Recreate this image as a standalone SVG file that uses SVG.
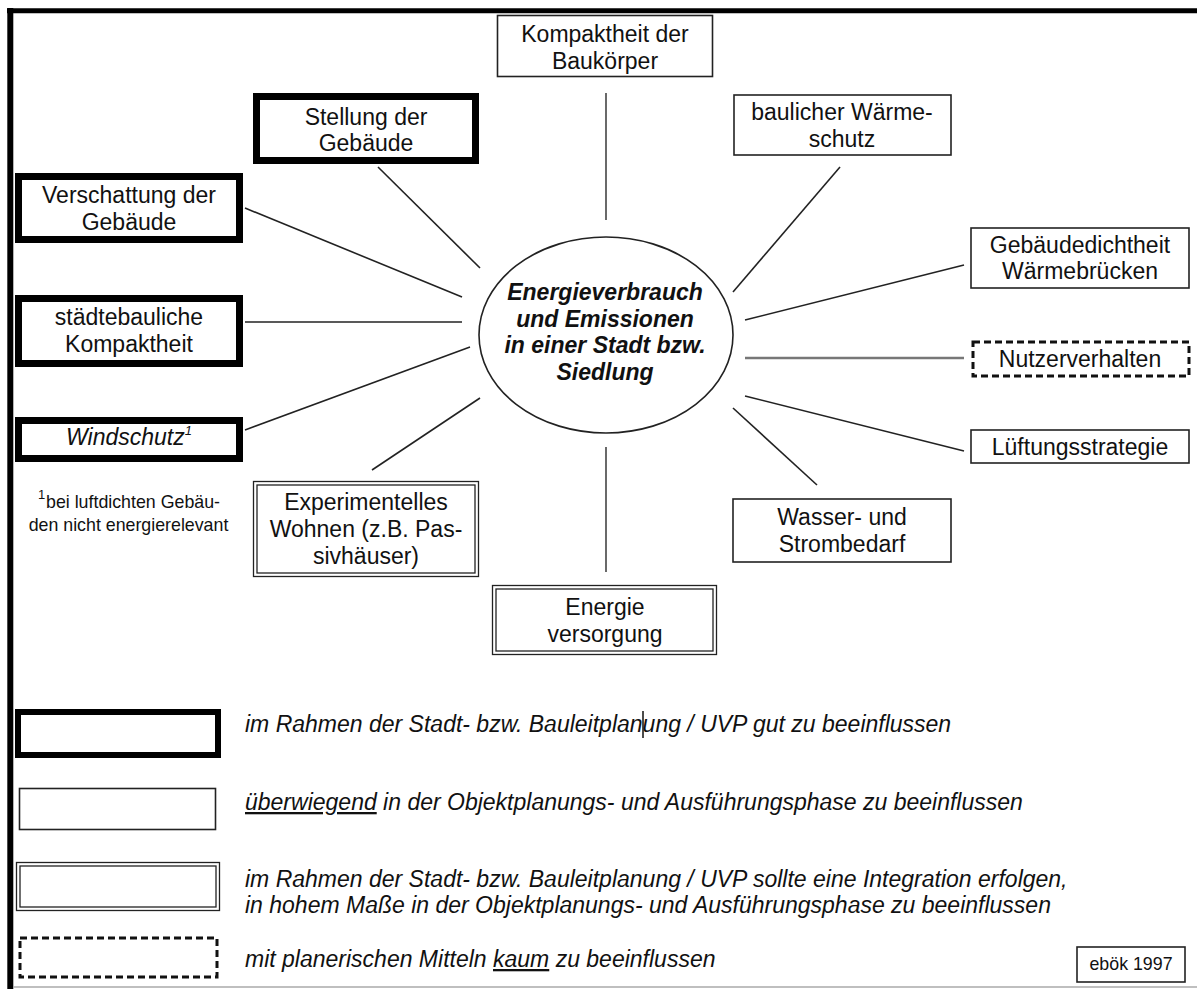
<svg xmlns="http://www.w3.org/2000/svg" width="1197" height="989" viewBox="0 0 1197 989">
<style>
  .t { font-family: "Liberation Sans", Arial, sans-serif; font-size: 23px; fill: #111; text-anchor: middle; }
  .c { font-family: "Liberation Sans", Arial, sans-serif; font-size: 23px; font-weight: bold; font-style: italic; fill: #111; text-anchor: middle; }
  .lg { font-family: "Liberation Sans", Arial, sans-serif; font-size: 23px; font-style: italic; fill: #111; }
  .fn { font-family: "Liberation Sans", Arial, sans-serif; font-size: 17.8px; fill: #111; }
  .thick { fill: #fff; stroke: #000; stroke-width: 7; }
  .thin { fill: #fff; stroke: #222; stroke-width: 1.6; }
  .dbl { fill: none; stroke: #222; stroke-width: 1.3; }
  .dash { fill: #fff; stroke: #111; stroke-width: 3; stroke-dasharray: 7 4; }
  .con line { stroke: #222; stroke-width: 1.6; }
</style>
<rect x="0" y="0" width="1197" height="989" fill="#fff"/>
<g id="frame">
  <line x1="10.3" y1="8" x2="10.3" y2="989" stroke="#000" stroke-width="6"/>
  <line x1="7" y1="10.8" x2="1197" y2="10.8" stroke="#000" stroke-width="5"/>
  <line x1="13" y1="987" x2="1197" y2="987" stroke="#aaa" stroke-width="1.5"/>
</g>
<g id="connectors" class="con">
  <line x1="606" y1="93" x2="606" y2="220" style="stroke:#444"/>
  <line x1="378" y1="167" x2="480" y2="268"/>
  <line x1="245" y1="208" x2="462" y2="297"/>
  <line x1="245" y1="322" x2="462" y2="322"/>
  <line x1="245" y1="430" x2="470" y2="347"/>
  <line x1="372" y1="470" x2="480" y2="398"/>
  <line x1="606" y1="447" x2="606" y2="572" style="stroke:#444"/>
  <line x1="733" y1="408" x2="817" y2="485"/>
  <line x1="745" y1="396" x2="964" y2="451"/>
  <line x1="745" y1="358" x2="964" y2="358" style="stroke:#777;stroke-width:2.5"/>
  <line x1="745" y1="320" x2="964" y2="265"/>
  <line x1="733" y1="292" x2="840" y2="167"/>
</g>
<g id="center">
  <ellipse cx="606" cy="335" rx="127" ry="98" fill="#fff" stroke="#222" stroke-width="1.6"/>
  <text class="c" x="605" y="300">Energieverbrauch</text>
  <text class="c" x="605" y="327">und Emissionen</text>
  <text class="c" x="605" y="353">in einer Stadt bzw.</text>
  <text class="c" x="605" y="380">Siedlung</text>
</g>
<g id="kompaktheit-baukoerper">
  <rect class="thin" x="497.5" y="15.5" width="215" height="61"/>
  <text class="t" x="605" y="42">Kompaktheit der</text>
  <text class="t" x="605" y="69">Baukörper</text>
</g>
<g id="stellung">
  <rect class="thick" x="256.5" y="96.5" width="219" height="64"/>
  <text class="t" x="366" y="125">Stellung der</text>
  <text class="t" x="366" y="151">Gebäude</text>
</g>
<g id="waermeschutz">
  <rect class="thin" x="734" y="95" width="217" height="60"/>
  <text class="t" x="842" y="120">baulicher Wärme-</text>
  <text class="t" x="842" y="147">schutz</text>
</g>
<g id="verschattung">
  <rect class="thick" x="18.5" y="176.5" width="221" height="63"/>
  <text class="t" x="129" y="203">Verschattung der</text>
  <text class="t" x="129" y="230">Gebäude</text>
</g>
<g id="staedtebau">
  <rect class="thick" x="18.5" y="298.5" width="221" height="65"/>
  <text class="t" x="129" y="325">städtebauliche</text>
  <text class="t" x="129" y="352">Kompaktheit</text>
</g>
<g id="windschutz">
  <rect class="thick" x="18.5" y="420.5" width="221" height="38"/>
  <text class="t" x="129" y="445" style="font-style:italic">Windschutz<tspan dy="-10" style="font-size:13px">1</tspan></text>
</g>
<g id="footnote">
  <text class="fn" x="38" y="499" style="font-size:13px">1</text>
  <text class="fn" x="46" y="508">bei luftdichten Gebäu-</text>
  <text class="fn" x="128.5" y="531" text-anchor="middle">den nicht energierelevant</text>
</g>
<g id="experimentelles">
  <rect class="dbl" x="253.5" y="481.5" width="225" height="95"/>
  <rect class="dbl" x="257" y="485" width="218" height="88"/>
  <text class="t" x="366" y="510">Experimentelles</text>
  <text class="t" x="366" y="537">Wohnen (z.B. Pas-</text>
  <text class="t" x="366" y="564">sivhäuser)</text>
</g>
<g id="energieversorgung">
  <rect class="dbl" x="492.5" y="585.5" width="224" height="69"/>
  <rect class="dbl" x="496" y="589" width="217" height="62"/>
  <text class="t" x="605" y="615">Energie</text>
  <text class="t" x="605" y="642">versorgung</text>
</g>
<g id="wasser">
  <rect class="thin" x="733" y="499" width="218" height="63"/>
  <text class="t" x="842" y="525">Wasser- und</text>
  <text class="t" x="842" y="552">Strombedarf</text>
</g>
<g id="gebaeudedichtheit">
  <rect class="thin" x="971" y="228" width="218" height="60"/>
  <text class="t" x="1080" y="253">Gebäudedichtheit</text>
  <text class="t" x="1080" y="279">Wärmebrücken</text>
</g>
<g id="nutzerverhalten">
  <rect class="dash" x="973" y="342" width="216" height="34"/>
  <text class="t" x="1080" y="367">Nutzerverhalten</text>
</g>
<g id="lueftung">
  <rect class="thin" x="971" y="430" width="218" height="33"/>
  <text class="t" x="1080" y="455">Lüftungsstrategie</text>
</g>
<g id="legend">
  <rect class="thick" x="18" y="712" width="200" height="43" style="stroke-width:6"/>
  <text class="lg" x="245" y="732">im Rahmen der Stadt- bzw. Bauleitplanung / UVP gut zu beeinflussen</text>
  <line x1="643" y1="711" x2="643" y2="738" stroke="#111" stroke-width="1.5"/>
  <rect class="thin" x="19.5" y="788.5" width="196" height="41"/>
  <text class="lg" x="245" y="810"><tspan text-decoration="underline">überwiegend</tspan> in der Objektplanungs- und Ausführungsphase zu beeinflussen</text>
  <rect class="dbl" x="16.5" y="862.5" width="203" height="48"/>
  <rect class="dbl" x="20" y="866" width="196" height="41"/>
  <text class="lg" x="245" y="887">im Rahmen der Stadt- bzw. Bauleitplanung / UVP sollte eine Integration erfolgen,</text>
  <text class="lg" x="245" y="913">in hohem Maße in der Objektplanungs- und Ausführungsphase zu beeinflussen</text>
  <rect class="dash" x="20" y="938" width="197" height="39"/>
  <text class="lg" x="245" y="967">mit planerischen Mitteln <tspan text-decoration="underline">kaum</tspan> zu beeinflussen</text>
  <rect class="thin" x="1077" y="947" width="108" height="35"/>
  <text class="fn" x="1131" y="970" text-anchor="middle">ebök 1997</text>
</g>
</svg>
